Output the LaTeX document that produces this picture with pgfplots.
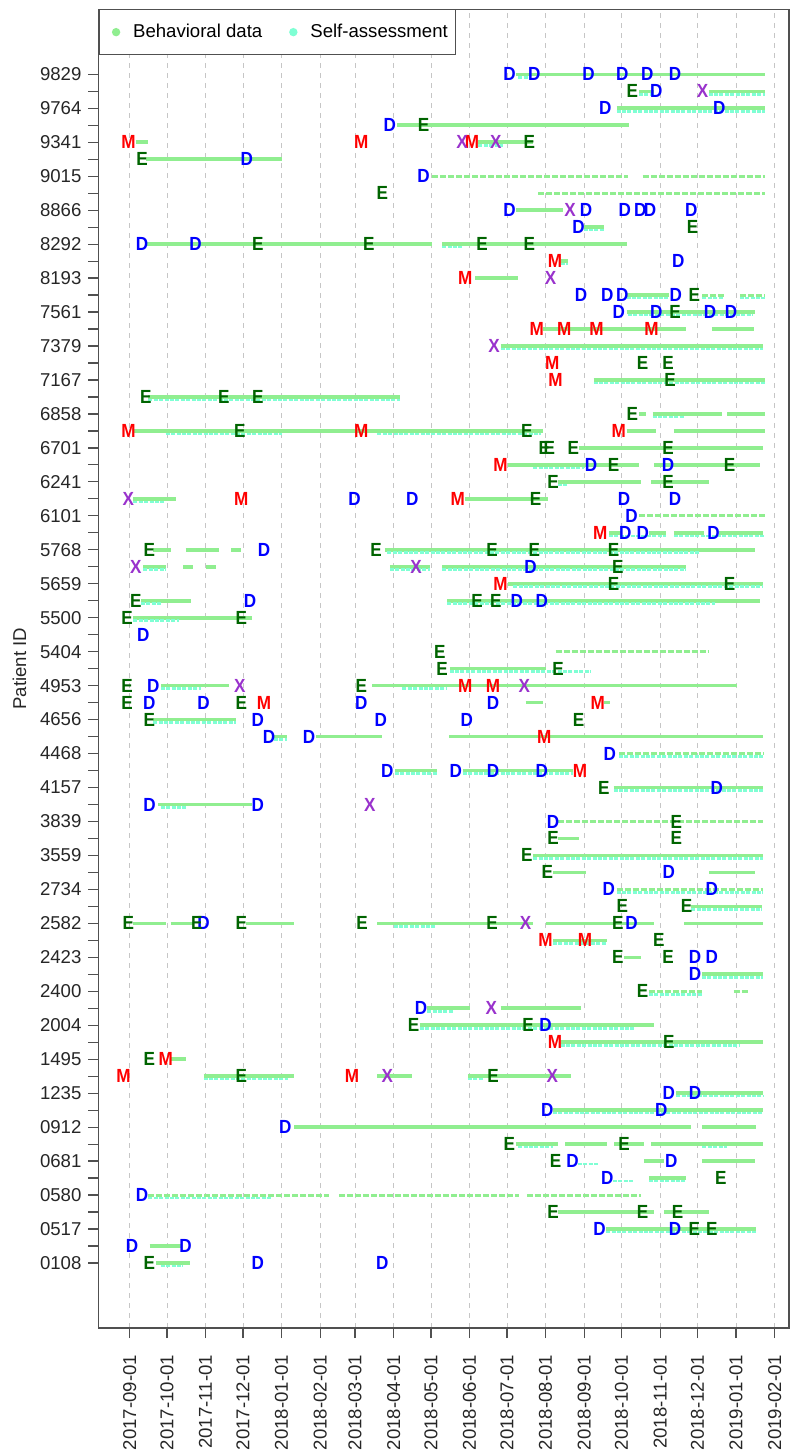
\documentclass[border=0pt]{standalone}
\usepackage{fontspec}
\setmainfont{Liberation Sans}
\setsansfont{Liberation Sans}
\usepackage{graphicx}
\usepackage{pgfplots}
\pgfplotsset{compat=1.18}
\definecolor{lg}{RGB}{144,238,144}
\definecolor{aq}{RGB}{127,255,212}
\definecolor{dg}{RGB}{0,100,0}
\definecolor{xo}{RGB}{153,50,204}
\definecolor{axc}{RGB}{80,80,80}
\newcommand\lf{\fontsize{9.5}{9.5}\selectfont\bfseries}
\newcommand\tf{\fontsize{9.3}{11}\selectfont}
\newcommand\nl[1]{\scalebox{0.9}[1]{#1}}
\begin{document}
\begin{tikzpicture}
\begin{axis}[
 scale only axis, width=345.25pt, height=659.35pt,
 xmin=-25, xmax=529.5, ymin=-3.83, ymax=73.83,
 unbounded coords=jump,
 axis line style={axc, line width=0.6pt},
 tick align=outside, major tick length=5pt, minor tick length=5pt,
 tick style={axc, line width=0.6pt},
 xtick pos=lower, ytick pos=left,
 xtick={0,30,61,91,122,153,181,212,242,273,303,334,365,395,426,456,487,518},
 xticklabels={2017-09-01,2017-10-01,2017-11-01,2017-12-01,2018-01-01,2018-02-01,2018-03-01,2018-04-01,2018-05-01,2018-06-01,2018-07-01,2018-08-01,2018-09-01,2018-10-01,2018-11-01,2018-12-01,2019-01-01,2019-02-01},
 xticklabel style={yshift=-5pt, rotate=90, anchor=east, font=\tf, text=black!85},
 ytick={0,2,...,70}, minor ytick={1,3,...,69},
 yticklabels={0108,0517,0580,0681,0912,1235,1495,2004,2400,2423,2582,2734,3559,3839,4157,4468,4656,4953,5404,5500,5659,5768,6101,6241,6701,6858,7167,7379,7561,8193,8292,8866,9015,9341,9764,9829},
 yticklabel style={font=\tf, text=black!85},
 xmajorgrids, major x grid style={gray!45, dash pattern=on 2.5pt off 2.5pt, line width=0.4pt},
 ylabel={Patient ID}, ylabel style={font=\tf, text=black!85},
 legend style={at={(0,1)}, anchor=north west, draw=axc, line width=0.6pt, font=\tf, legend columns=2, inner xsep=2pt, inner ysep=5pt, /tikz/every even column/.append style={column sep=7pt}, cells={anchor=west}},
]
\coordinate (sw) at (rel axis cs:0,0);
\coordinate (ne) at (rel axis cs:1,1);
\addlegendimage{legend image code/.code={\path[draw=none] (0pt,0pt) -- (13pt,0pt); \fill[lg, draw=none] (6.5pt,0pt) circle (2.1pt);}}
\addlegendentry{Behavioral data}
\addlegendimage{legend image code/.code={\path[draw=none] (0pt,0pt) -- (13pt,0pt); \fill[aq, draw=none] (6.5pt,0pt) circle (2.1pt);}}
\addlegendentry{Self-assessment}
% behavioral data, continuous
\addplot[forget plot, lg, line width=1.8pt] coordinates {
(310,70)(510,70)(nan,nan)
(409,69)(421,69)(nan,nan)(465,69)(510,69)(nan,nan)
(391,68)(510,68)(nan,nan)
(215,67)(401,67)(nan,nan)
(5,66)(15,66)(nan,nan)(280,66)(324,66)(nan,nan)
(13,65)(122,65)(nan,nan)
(310,62)(348,62)(nan,nan)
(364.5,61)(381,61)(nan,nan)
(13,60)(243,60)(nan,nan)(251,60)(399,60)(nan,nan)
(346,59)(352,59)(nan,nan)
(277.6,58)(312,58)(nan,nan)
(399,57)(433,57)(nan,nan)
(399,56)(502,56)(nan,nan)
(332,55)(447,55)(nan,nan)(467.5,55)(501,55)(nan,nan)
(298,54)(509,54)(nan,nan)
(372.6,52)(510,52)(nan,nan)
(15,51)(217,51)(nan,nan)
(409,50)(415,50)(nan,nan)(420,50)(476,50)(nan,nan)(480,50)(510,50)(nan,nan)
(3,49)(332,49)(nan,nan)(399,49)(423,49)(nan,nan)(437,49)(510,49)(nan,nan)
(360.5,48)(509,48)(nan,nan)
(304,47)(409,47)(nan,nan)(421,47)(506,47)(nan,nan)
(344,46)(411,46)(nan,nan)(419,46)(465.5,46)(nan,nan)
(3,45)(37,45)(nan,nan)(269.5,45)(336,45)(nan,nan)
(385,43)(395,43)(nan,nan)(417,43)(431,43)(nan,nan)(437,43)(461.5,43)(nan,nan)(473.6,43)(509,43)(nan,nan)
(19,42)(33,42)(nan,nan)(45,42)(71.5,42)(nan,nan)(81.6,42)(89.7,42)(nan,nan)(205,42)(502,42)(nan,nan)
(11,41)(29,41)(nan,nan)(43,41)(51,41)(nan,nan)(61,41)(69.5,41)(nan,nan)(209,41)(241,41)(nan,nan)(251,41)(447,41)(nan,nan)
(304,40)(509,40)(nan,nan)
(9,39)(49,39)(nan,nan)(255,39)(506,39)(nan,nan)
(3,38)(98,38)(nan,nan)
(257,35)(334,35)(nan,nan)
(25,34)(79.6,34)(nan,nan)(195,34)(488,34)(nan,nan)
(318,33)(332,33)(nan,nan)(381,33)(386,33)(nan,nan)
(19,32)(85.7,32)(nan,nan)
(116,31)(126,31)(nan,nan)(150,31)(203,31)(nan,nan)(256.6,31)(509,31)(nan,nan)
(213,29)(247,29)(nan,nan)(267.5,29)(356,29)(nan,nan)
(388.7,28)(509,28)(nan,nan)
(23,27)(98,27)(nan,nan)
(344,25)(360.5,25)(nan,nan)
(324,24)(509,24)(nan,nan)
(340,23)(366.5,23)(nan,nan)(465.5,23)(502,23)(nan,nan)
(451,21)(508,21)(nan,nan)
(3,20)(29,20)(nan,nan)(33,20)(51,20)(nan,nan)(93.8,20)(132,20)(nan,nan)(199,20)(324,20)(nan,nan)(334,20)(421,20)(nan,nan)(445,20)(509,20)(nan,nan)
(340,19)(383,19)(nan,nan)
(397,18)(411,18)(nan,nan)
(459.5,17)(509,17)(nan,nan)
(239,15)(273.6,15)(nan,nan)(298,15)(362.5,15)(nan,nan)
(233,14)(421,14)(nan,nan)
(346,13)(509,13)(nan,nan)
(33,12)(45,12)(nan,nan)
(59.4,11)(132,11)(nan,nan)(199,11)(227,11)(nan,nan)(271.6,11)(354.4,11)(nan,nan)
(439,10)(509,10)(nan,nan)
(340,9)(509,9)(nan,nan)
(132,8)(451,8)(nan,nan)(459.5,8)(503,8)(nan,nan)
(310,7)(344,7)(nan,nan)(350,7)(383,7)(nan,nan)(389,7)(413,7)(nan,nan)(419,7)(509,7)(nan,nan)
(413,6)(429,6)(nan,nan)(459.5,6)(502,6)(nan,nan)
(417,5)(447,5)(nan,nan)
(344,3)(421,3)(nan,nan)(429,3)(465.5,3)(nan,nan)
(382.7,2)(503,2)(nan,nan)
(16,1)(41,1)(nan,nan)
(21,0)(48.5,0)(nan,nan)
};
% behavioral data, sparse
\addplot[forget plot, lg, line width=1.5pt, dash pattern=on 3pt off 1pt] coordinates {
(243,64)(400,64)(nan,nan)(412,64)(510,64)(nan,nan)
(328,63)(510,63)(nan,nan)
(460,57)(477,57)(nan,nan)(490,57)(510,57)(nan,nan)
(409,44)(510,44)(nan,nan)
(342,36)(465.5,36)(nan,nan)
(393,30)(509,30)(nan,nan)
(344,26)(509,26)(nan,nan)
(391,22)(509,22)(nan,nan)
(417,16)(460,16)(nan,nan)(485,16)(497,16)(nan,nan)
(15,4)(160,4)(nan,nan)(168,4)(313,4)(nan,nan)(319,4)(411,4)(nan,nan)
};
% self-assessment
\addplot[forget plot, aq, line width=1.3pt, dash pattern=on 2pt off 0.7pt, yshift=-1.5pt] coordinates {
(312,70)(322,70)(nan,nan)
(409,69)(421,69)(nan,nan)(465,69)(510,69)(nan,nan)
(391,68)(510,68)(nan,nan)
(280,66)(300,66)(nan,nan)
(364.5,61)(381,61)(nan,nan)
(251,60)(268,60)(nan,nan)
(346,59)(352,59)(nan,nan)
(399,57)(433,57)(nan,nan)(460,57)(477,57)(nan,nan)(490,57)(510,57)(nan,nan)
(400,56)(500,56)(nan,nan)
(298,54)(509,54)(nan,nan)
(372.6,52)(510,52)(nan,nan)
(15,51)(217,51)(nan,nan)
(420,50)(445,50)(nan,nan)
(29,49)(122,49)(nan,nan)(199,49)(330,49)(nan,nan)
(324,47)(364.5,47)(nan,nan)
(344,46)(352,46)(nan,nan)
(3,45)(29,45)(nan,nan)
(385,43)(431,43)(nan,nan)(437,43)(510,43)(nan,nan)
(207,42)(457,42)(nan,nan)
(11,41)(29,41)(nan,nan)(209,41)(241,41)(nan,nan)(251,41)(447,41)(nan,nan)
(308,40)(509,40)(nan,nan)
(9,39)(25,39)(nan,nan)(255,39)(470,39)(nan,nan)
(3,38)(40,38)(nan,nan)
(257,35)(370,35)(nan,nan)
(25,34)(57,34)(nan,nan)(219,34)(255,34)(nan,nan)
(19,32)(85.7,32)(nan,nan)
(116,31)(126,31)(nan,nan)
(393,30)(509,30)(nan,nan)
(213,29)(247,29)(nan,nan)(267.5,29)(356,29)(nan,nan)
(388.7,28)(509,28)(nan,nan)
(25,27)(45,27)(nan,nan)
(324,24)(509,24)(nan,nan)
(391,22)(509,22)(nan,nan)
(451,21)(508,21)(nan,nan)
(212,20)(245,20)(nan,nan)
(340,19)(383,19)(nan,nan)
(459.5,17)(509,17)(nan,nan)
(417,16)(460,16)(nan,nan)
(239,15)(260,15)(nan,nan)
(233,14)(405,14)(nan,nan)
(346,13)(490,13)(nan,nan)
(59.4,11)(127,11)(nan,nan)(271.6,11)(284,11)(nan,nan)
(439,10)(509,10)(nan,nan)
(340,9)(509,9)(nan,nan)
(312,7)(340,7)(nan,nan)(460,7)(480,7)(nan,nan)
(360,6)(376,6)(nan,nan)
(388,5)(404,5)(nan,nan)(417,5)(447,5)(nan,nan)
(15,4)(114,4)(nan,nan)
(382.7,2)(503,2)(nan,nan)
(25,0)(43,0)(nan,nan)
};
% D events
\addplot[forget plot, only marks, blue, mark=text, text mark={\nl{D}}, text mark as node=true, text mark style={font=\lf, text=blue, inner sep=0pt}] coordinates {
(305,70)(325,70)(368.5,70)(395.6,70)(415.8,70)(438,70)
(423,69)(382,68)(473.6,68)(209,67)(94,65)(236,64)
(305,62)(366.5,62)(397.6,62)(410,62)(418,62)(451,62)
(360.5,61)(10,60)(53,60)(440.5,59)
(362.5,57)(383.5,57)(395.6,57)(438.5,57)
(392.8,56)(423,56)(466,56)(483,56)
(370.6,47)(432.4,47)
(180.6,45)(227,45)(397,45)(438,45)
(403,44)(398,43)(412,43)(469,43)
(108,42)(322,41)(96.6,39)(311,39)(331,39)
(11,37)(19,34)
(15.8,33)(59.4,33)(186,33)(291.8,33)
(103,32)(201.6,32)(270.7,32)
(112,31)(144,31)(385.5,30)
(207,29)(262,29)(291.8,29)(331,29)
(471.6,28)(16,27)(103,27)(340,26)(433,23)
(384.7,22)(467.5,22)(59.4,20)(403,20)
(454,18)(467.5,18)(454,17)(234,15)(334,14)
(433,10)(454,10)(335.4,9)(427,9)(125,8)
(355.6,6)(435,6)(383.5,5)(10,4)
(377.4,2)(438,2)(2,1)(45,1)(103,0)(203,0)
};
% E events
\addplot[forget plot, only marks, dg, mark=text, text mark={\nl{E}}, text mark as node=true, text mark style={font=\lf, text=dg, inner sep=0pt}] coordinates {
(403.7,69)(236,67)(321,66)(10,65)(203,63)(452,61)
(103,60)(192,60)(283,60)(321,60)
(453.4,57)(438,56)(412,53)(432.4,53)(434,52)
(13,51)(75.6,51)(103,51)(403.7,50)
(88.5,49)(319,49)
(333,48)(337,48)(356.4,48)(432.4,48)
(388.7,47)(481.7,47)(340,46)(432.4,46)(326,45)
(15.8,42)(198,42)(291,42)(325,42)(388.7,42)
(392,41)(388.7,40)(481.7,40)
(5,39)(279,39)(294,39)(-2,38)(89.7,38)
(249,36)(251,35)(344,35)(-2,34)(186,34)
(-2,33)(89.7,33)(15.8,32)(360.5,32)
(380.7,28)(439,26)(340,25)(439,25)(319,24)(335.4,23)
(395.6,21)(447.3,21)
(-1,20)(54,20)(89.7,20)(186.7,20)(291,20)(392,20)
(425,19)(392,18)(432.4,18)(412,16)(228,14)(320,14)
(433,13)(15.8,12)(89.7,11)(291.8,11)
(305,7)(397,7)(342,6)(474.8,5)
(340,3)(412,3)(440,3)(453.4,2)(467.5,2)(15.8,0)
};
% M events
\addplot[forget plot, only marks, red, mark=text, text mark={\nl{M}}, text mark as node=true, text mark style={font=\lf, text=red, inner sep=0pt}] coordinates {
(-1,66)(186,66)(275,66)(341.5,59)(269.5,58)
(327,55)(349,55)(375,55)(419,55)
(339.4,53)(342,52)(-1,49)(186,49)(392.8,49)
(297.8,47)(89.7,45)(263.5,45)(378,43)(297.8,40)
(269.5,34)(291.8,34)(108,33)(376,33)(333,31)(361.7,29)
(334,19)(365.7,19)(341.5,13)(29,12)(-5,11)(178.6,11)
};
% X events
\addplot[forget plot, only marks, xo, mark=text, text mark={\nl{X}}, text mark as node=true, text mark style={font=\lf, text=xo, inner sep=0pt}] coordinates {
(460,69)(267,66)(294,66)(353.6,62)(338,58)(292.6,54)(-1,45)(5,41)(230,41)(88.5,34)(317,34)(192.8,27)(318,20)(290.5,15)(207,11)(339.4,11)
};
\end{axis}
\pgfresetboundingbox
\path[use as bounding box] ([xshift=-49.25pt,yshift=-61pt]sw) rectangle ([xshift=0.5pt,yshift=4.65pt]ne);
\end{tikzpicture}
\end{document}
